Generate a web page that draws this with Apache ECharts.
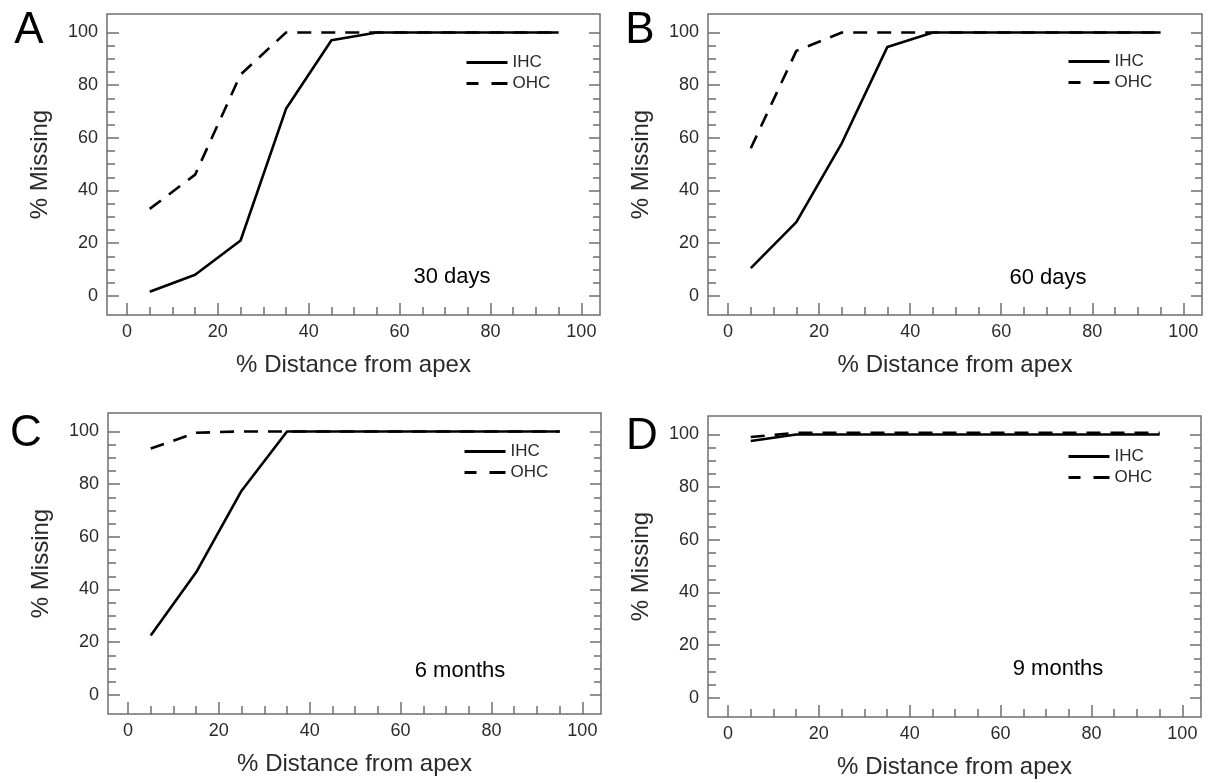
<!DOCTYPE html>
<html><head><meta charset="utf-8">
<script src="https://cdn.jsdelivr.net/npm/echarts@6/dist/echarts.min.js"></script>
<style>html,body{margin:0;padding:0;background:#fff}#c{width:1215px;height:783px}</style>
</head><body><div id="c"></div>
<script>
// ---- data ----
const distance = [5, 15, 25, 35, 45, 55, 65, 75, 85, 95];
const ihc30d = [1.5, 8, 21, 71, 97, 100, 100, 100, 100, 100];
const ohc30d = [33, 46, 84, 100, 100, 100, 100, 100, 100, 100];
const ihc60d = [10.5, 28, 58, 94.5, 100, 100, 100, 100, 100, 100];
const ohc60d = [56, 93, 100, 100, 100, 100, 100, 100, 100, 100];
const ihc6m = [22.5, 46.5, 77.5, 100, 100, 100, 100, 100, 100, 100];
const ohc6m = [93.5, 99.5, 100, 100, 100, 100, 100, 100, 100, 100];
const ihc9m = [97.5, 100, 100, 100, 100, 100, 100, 100, 100, 100];
const ohc9m = [99, 100.6, 100.6, 100.6, 100.6, 100.6, 100.6, 100.6, 100.6, 100.6];
const xMajorTicks = [0, 20, 40, 60, 80, 100];
const xMinorTicks = [5, 10, 15, 25, 30, 35, 45, 50, 55, 65, 70, 75, 85, 90, 95];
const yMajorTicks = [0, 20, 40, 60, 80, 100];
const yMinorTicks = [5, 10, 15, 25, 30, 35, 45, 50, 55, 65, 70, 75, 85, 90, 95];
const panelLetters = ['A', 'B', 'C', 'D'];
const panelNotes = ['30 days', '60 days', '6 months', '9 months'];
const seriesNames = ['IHC', 'OHC'];
const xTitle = '% Distance from apex';
const yTitle = '% Missing';

const panelsData = [
  [ihc30d, ohc30d], [ihc60d, ohc60d], [ihc6m, ohc6m], [ihc9m, ohc9m]
];

// ---- layout ----
const FONT = '"Liberation Sans", Arial, Helvetica, sans-serif';
const GRAY = '#6f6f6f';
const DASH = [14, 10];
const grids = [
  {left: 107, top: 14, width: 493, height: 301},
  {left: 708, top: 14, width: 494, height: 301},
  {left: 108, top: 413, width: 493, height: 301},
  {left: 708, top: 416, width: 493, height: 301}
];
const legendPos = [
  {left: 465, top: 54}, {left: 1067, top: 53}, {left: 463, top: 443}, {left: 1067, top: 448}
];
const letterPos = [[29, 31], [640, 31], [26, 434], [642, 437]];
const notePos = [[452, 277], [1048, 278], [460, 671], [1058, 669]];

const X_MIN = -4.4, X_MAX = 104.1, Y_MIN = -7.3, Y_MAX = 107;

const option = {
  animation: false,
  backgroundColor: '#fff',
  grid: grids.map(g => Object.assign({show: true, borderColor: GRAY, borderWidth: 1.5, backgroundColor: 'transparent'}, g)),
  xAxis: [],
  yAxis: [],
  legend: [],
  series: [],
  graphic: []
};

function tickAxis(base, len, vals) {
  return Object.assign({
    type: 'value',
    axisLine: {show: false, onZero: false},
    splitLine: {show: false},
    axisTick: {show: true, inside: true, length: len, customValues: vals, lineStyle: {color: GRAY, width: 1.5}},
    axisLabel: {show: false}
  }, base);
}

grids.forEach((g, i) => {
  const xMajor = tickAxis({gridIndex: i, position: 'bottom', min: X_MIN, max: X_MAX}, 12, xMajorTicks);
  xMajor.axisLabel = {show: true, customValues: xMajorTicks, margin: 8, fontSize: 18, color: '#2a2a2a', fontFamily: FONT};
  xMajor.name = xTitle; xMajor.nameLocation = 'middle'; xMajor.nameGap = 38;
  xMajor.nameTextStyle = {fontSize: 24, color: '#2a2a2a', fontFamily: FONT};
  option.xAxis.push(xMajor);
  option.xAxis.push(tickAxis({gridIndex: i, position: 'bottom', min: X_MIN, max: X_MAX}, 8, xMinorTicks));

  const yMajor = tickAxis({gridIndex: i, position: 'left', min: Y_MIN, max: Y_MAX}, 12, yMajorTicks);
  yMajor.axisLabel = {show: true, customValues: yMajorTicks, margin: 9, fontSize: 18, color: '#2a2a2a', fontFamily: FONT};
  yMajor.name = yTitle; yMajor.nameLocation = 'middle'; yMajor.nameGap = 55; yMajor.nameRotate = 90;
  yMajor.nameTextStyle = {fontSize: 24, color: '#2a2a2a', fontFamily: FONT};
  option.yAxis.push(yMajor);
  option.yAxis.push(tickAxis({gridIndex: i, position: 'left', min: Y_MIN, max: Y_MAX}, 8, yMinorTicks));
  option.yAxis.push(tickAxis({gridIndex: i, position: 'right', min: Y_MIN, max: Y_MAX}, 11, yMajorTicks));
  option.yAxis.push(tickAxis({gridIndex: i, position: 'right', min: Y_MIN, max: Y_MAX}, 7, yMinorTicks));

  panelsData[i].forEach((vals, k) => {
    option.series.push({
      name: seriesNames[k], type: 'line', xAxisIndex: 2 * i, yAxisIndex: 4 * i,
      data: distance.map((d, j) => [d, vals[j]]),
      symbol: 'none', showSymbol: false, z: k === 0 ? 3 : 4,
      lineStyle: {color: '#000', width: 2.6, type: k === 0 ? 'solid' : DASH},
      itemStyle: {color: '#000'}
    });
  });

  option.legend.push({
    orient: 'vertical', left: legendPos[i].left, top: legendPos[i].top,
    data: [
      {name: seriesNames[0], lineStyle: {type: 'solid', width: 3, color: '#000'}},
      {name: seriesNames[1], lineStyle: {type: [12, 13, 16, 100], width: 3, color: '#000'}}
    ],
    itemWidth: 41, itemHeight: 16, itemGap: 4, padding: 0,
    selectedMode: false,
    itemStyle: {color: 'rgba(0,0,0,0)', borderColor: 'rgba(0,0,0,0)', borderWidth: 0, opacity: 0},
    textStyle: {fontSize: 17, color: '#2a2a2a', fontFamily: FONT}
  });

  option.graphic.push({
    type: 'text', x: letterPos[i][0], y: letterPos[i][1],
    style: {text: panelLetters[i], font: '44px ' + FONT, fill: '#000', textAlign: 'center', textVerticalAlign: 'middle'}
  });
  option.graphic.push({
    type: 'text', x: notePos[i][0], y: notePos[i][1],
    style: {text: panelNotes[i], font: '22px ' + FONT, fill: '#000', textAlign: 'center', textVerticalAlign: 'middle'}
  });
});

const chart = echarts.init(document.getElementById('c'), null, {renderer: 'canvas'});
chart.setOption(option);
</script>
</body></html>
